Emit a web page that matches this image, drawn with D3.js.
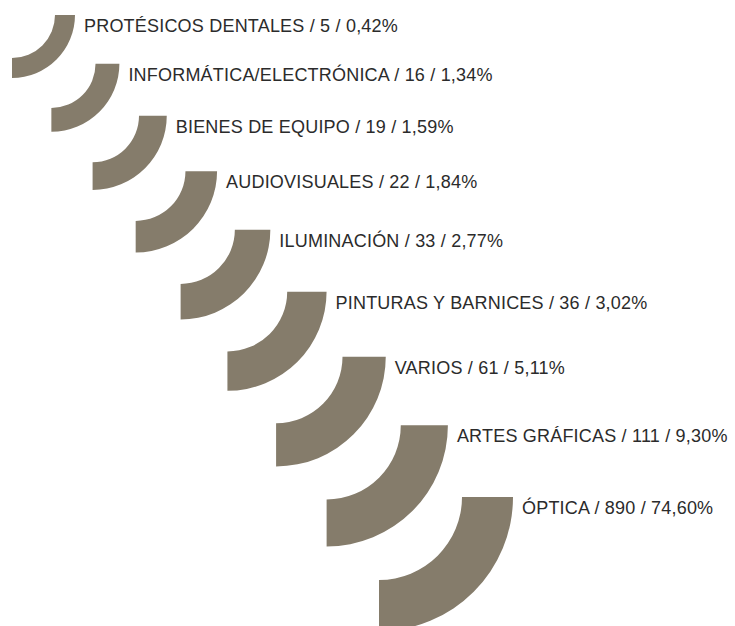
<!DOCTYPE html>
<html>
<head>
<meta charset="utf-8">
<script src="https://cdn.jsdelivr.net/npm/d3@7/dist/d3.min.js"></script>
<style>
  html, body { margin: 0; padding: 0; background: #ffffff; }
  svg { display: block; }
</style>
</head>
<body>
<svg id="chart" width="735" height="626"></svg>
<script>
// ---- data ----
const categories = [
  "PROTÉSICOS DENTALES",
  "INFORMÁTICA/ELECTRÓNICA",
  "BIENES DE EQUIPO",
  "AUDIOVISUALES",
  "ILUMINACIÓN",
  "PINTURAS Y BARNICES",
  "VARIOS",
  "ARTES GRÁFICAS",
  "ÓPTICA"
];
const counts = [5, 16, 19, 22, 33, 36, 61, 111, 890];
const percents = [0.42, 1.34, 1.59, 1.84, 2.77, 3.02, 5.11, 9.30, 74.60];

// ---- layout ----
const svg = d3.select("#chart");
const n = categories.length;
const fill = "#857c6b";
const textColor = "#2b2b2b";

const esLocale = d3.formatLocale({ decimal: ",", thousands: ".", grouping: [3], currency: ["", " €"] });
const fmtPct = esLocale.format(".2f");

// index -> position / size scales (quadratic growth along the cascade)
const xOff = 20.67, yOff = 14.36, rOff = 4.09;
const xScale = d3.scalePow().exponent(2).domain([xOff, xOff + n - 1]).range([12, 379]);
const yScale = d3.scalePow().exponent(2).domain([yOff, yOff + n - 1]).range([15, 497]);
const rOuter = d3.scalePow().exponent(2).domain([rOff, rOff + n - 1]).range([63, 134]);
const thick = d3.scaleLinear().domain([0, n - 1]).range([20, 51]);

const arc = d3.arc()
  .startAngle(Math.PI / 2)
  .endAngle(Math.PI);

const items = categories.map((c, i) => ({
  cat: c, count: counts[i], pct: percents[i], i
}));

const g = svg.selectAll("g.item")
  .data(items)
  .join("g")
  .attr("class", "item")
  .attr("transform", d => `translate(${xScale(d.i + xOff)},${yScale(d.i + yOff)})`);

g.append("path")
  .attr("fill", fill)
  .attr("d", d => {
    const ro = rOuter(d.i + rOff);
    return arc({ innerRadius: ro - thick(d.i), outerRadius: ro });
  });

g.append("text")
  .attr("x", d => rOuter(d.i + rOff) + 9)
  .attr("y", 17)
  .attr("fill", textColor)
  .style("font-family", "'Liberation Sans', Arial, sans-serif")
  .style("font-size", "18px")
  .style("letter-spacing", "0.2px")
  .text(d => `${d.cat} / ${d.count} / ${fmtPct(d.pct)}%`);
</script>
</body>
</html>
